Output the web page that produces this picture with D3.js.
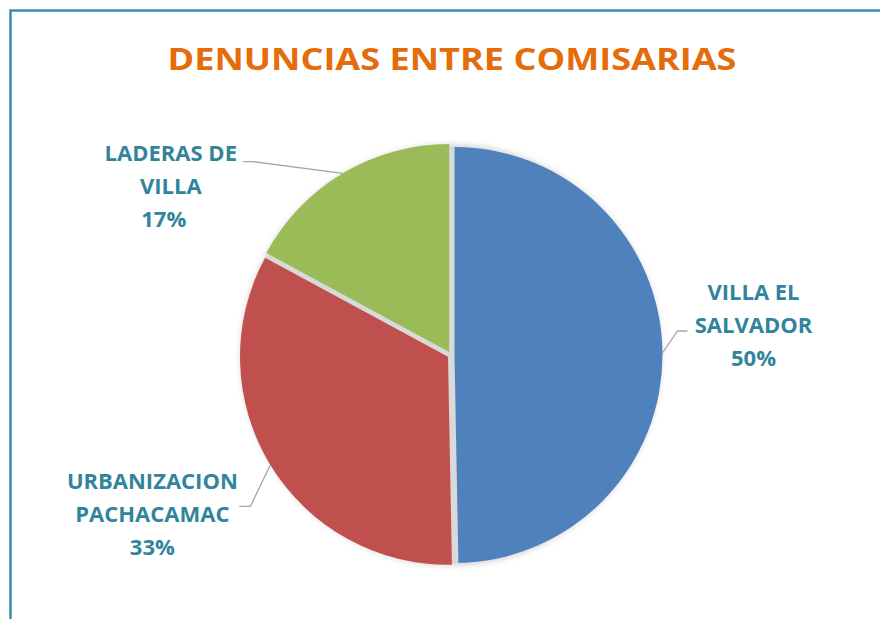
<!DOCTYPE html>
<html>
<head>
<meta charset="utf-8">
<script src="https://cdn.jsdelivr.net/npm/d3@7"></script>
<style>
  html, body { margin: 0; padding: 0; background: #fff; }
  svg { display: block; }
</style>
</head>
<body>
<svg id="chart" width="880" height="619"></svg>
<script>
// ---- data ----
const title = "DENUNCIAS ENTRE COMISARIAS";
const categories = ["VILLA EL SALVADOR", "URBANIZACION PACHACAMAC", "LADERAS DE VILLA"];
const labelLines = [["VILLA EL", "SALVADOR"], ["URBANIZACION", "PACHACAMAC"], ["LADERAS DE", "VILLA"]];
const values = [49.7, 33.2, 17.1];
const percentLabels = ["50%", "33%", "17%"];
const colors = ["#4F81BD", "#C0504D", "#9BBB59"];

// ---- layout ----
const W = 880, H = 619;
const cx = 451, cy = 355, R = 208, explode = 3.5;
const svg = d3.select("#chart");

const defs = svg.append("defs");
const blur = defs.append("filter").attr("id", "shadow")
  .attr("x", "-20%").attr("y", "-20%").attr("width", "140%").attr("height", "140%");
blur.append("feGaussianBlur").attr("stdDeviation", 3);

// frame
svg.append("path")
  .attr("d", `M10.5,${H} L10.5,10.5 L${W},10.5`)
  .attr("fill", "none").attr("stroke", "#3A8FA6").attr("stroke-width", 2.5);

// title
svg.append("text")
  .attr("x", 452).attr("y", 69.5)
  .attr("text-anchor", "middle")
  .attr("font-family", "'Open Sans', sans-serif")
  .attr("font-weight", 700).attr("font-size", 30)
  .attr("fill", "#E46C0A")
  .attr("textLength", 569).attr("lengthAdjust", "spacingAndGlyphs")
  .text(title);

const pie = d3.pie().sort(null).value(d => d)(values);
const arc = d3.arc().innerRadius(0).outerRadius(R);

const g = svg.append("g").attr("transform", `translate(${cx},${cy})`);

// shadow disk
g.append("circle").attr("r", R + 2).attr("fill", "#bdbdbd")
  .attr("filter", "url(#shadow)").attr("opacity", 0.75);
g.append("circle").attr("r", R - 2).attr("fill", "#d9d9d9");

function offset(d) {
  const a = (d.startAngle + d.endAngle) / 2;
  return [Math.sin(a) * explode, -Math.cos(a) * explode];
}

g.selectAll("path.slice").data(pie).join("path")
  .attr("class", "slice")
  .attr("transform", d => `translate(${offset(d)})`)
  .attr("d", arc)
  .attr("fill", (d, i) => colors[i]);

// labels with leader lines
const labelCfg = [
  { dx: 91, dy: -20, lead: -2, end: -66, elbow: -10 },
  { dx: -118, dy: 57, lead: -15.5, end: 87, elbow: 11 },
  { dx: -172, dy: 21, lead: -32.7, end: 72, elbow: 10 }
];
const lineGap = 33;
pie.forEach((d, i) => {
  const a = (d.startAngle + d.endAngle) / 2;
  const [ox, oy] = offset(d);
  const px = ox + Math.sin(a) * R, py = oy - Math.cos(a) * R;
  const c = labelCfg[i];
  const lx = px + c.dx, ly = py + c.dy;   // label center x, middle-line baseline
  const lines = labelLines[i].concat([percentLabels[i]]);
  const endY = ly + c.lead, endX = lx + c.end, elbowX = endX + c.elbow;
  g.append("polyline")
    .attr("points", `${px},${py} ${elbowX},${endY} ${endX},${endY}`)
    .attr("fill", "none").attr("stroke", "#A6A6A6").attr("stroke-width", 1.3);
  const t = g.append("text")
    .attr("text-anchor", "middle")
    .attr("font-family", "'Open Sans', sans-serif")
    .attr("font-weight", 700).attr("font-size", 22)
    .attr("fill", "#31849B");
  lines.forEach((s, k) => {
    t.append("tspan").attr("x", lx + (i === 2 && k === 2 ? -7 : 0))
      .attr("y", ly + (k - 1) * lineGap).text(s);
  });
});
</script>
</body>
</html>
